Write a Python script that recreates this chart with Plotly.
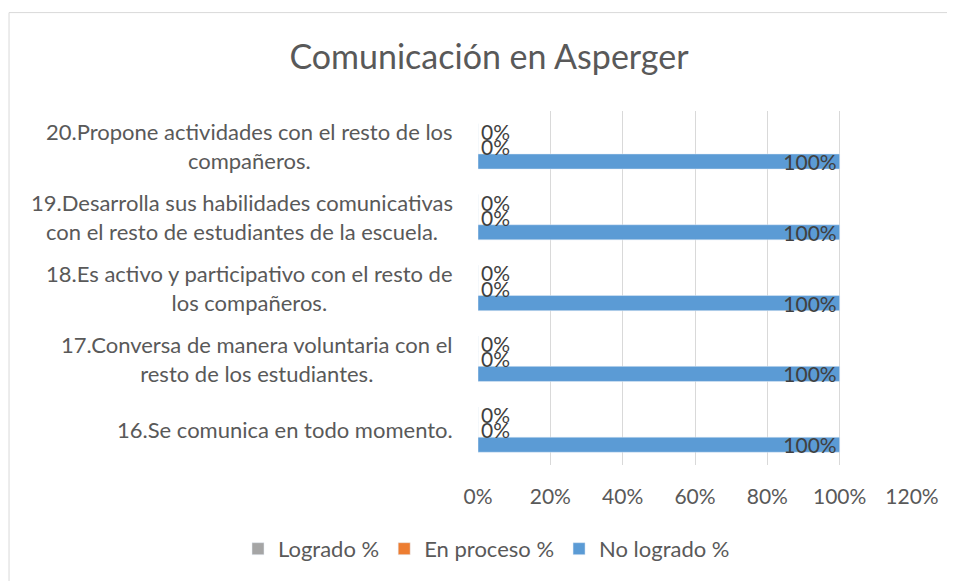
import plotly.graph_objects as go

categories = [
    "16.Se comunica en todo momento.",
    "17.Conversa de manera voluntaria con el<br>resto de los estudiantes.",
    "18.Es activo y participativo con el resto de<br>los compañeros.",
    "19.Desarrolla sus habilidades comunicativas<br>con el resto de estudiantes de la escuela.",
    "20.Propone actividades con el resto de los<br>compañeros.",
]
logrado = [0, 0, 0, 0, 0]
en_proceso = [0, 0, 0, 0, 0]
no_logrado = [100, 100, 100, 100, 100]
x_ticks = [0, 20, 40, 60, 80, 100, 120]
x_tick_labels = ["0%", "20%", "40%", "60%", "80%", "100%", "120%"]

FONT = "Lato, 'Open Sans', sans-serif"
TXT = "#595959"
LBL = "#404040"
ids = list(range(len(categories)))

fig = go.Figure()
fig.add_trace(go.Bar(
    y=ids, x=no_logrado, orientation="h", name="No logrado %",
    marker_color="#5B9BD5", text=[f"{v}%" for v in no_logrado],
    textposition="inside", insidetextanchor="end", constraintext="none",
    textfont=dict(family=FONT, size=21, color=LBL),
))
fig.add_trace(go.Bar(
    y=ids, x=en_proceso, orientation="h", name="En proceso %",
    marker_color="#ED7D31", text=[f"{v}%" for v in en_proceso],
    textposition="outside", constraintext="none", cliponaxis=False,
    textfont=dict(family=FONT, size=21, color=LBL),
))
fig.add_trace(go.Bar(
    y=ids, x=logrado, orientation="h", name="Logrado %",
    marker_color="#A5A5A5", text=[f"{v}%" for v in logrado],
    textposition="outside", constraintext="none", cliponaxis=False,
    textfont=dict(family=FONT, size=21, color=LBL),
))

for i, c in enumerate(categories):
    fig.add_annotation(
        x=-0.053, xref="paper", y=i, yref="y", text=c, showarrow=False,
        xanchor="right", align="center",
        font=dict(family=FONT, size=22, color=TXT),
    )

fig.add_shape(type="rect", xref="paper", yref="paper",
              x0=-1.0806, x1=1.12, y0=-0.4, y1=1.278,
              line=dict(color="#D9D9D9", width=1), layer="below")

fig.update_layout(
    width=947, height=573,
    margin=dict(l=470, r=43, t=103, b=116, autoexpand=False),
    paper_bgcolor="white", plot_bgcolor="white",
    barmode="group", bargap=0.36, bargroupgap=0,
    title=dict(text="Comunicación en Asperger", x=(489 - 8) / 947, xref="container",
               xanchor="center", y=1 - 49 / 573, yref="container", yanchor="middle",
               font=dict(family=FONT, size=34, color=TXT)),
    xaxis=dict(range=[0, 120], tickvals=x_ticks, ticktext=x_tick_labels,
               showgrid=True, gridcolor="#D9D9D9", gridwidth=1,
               zeroline=False, showline=False, ticks="",
               ticklabelstandoff=17,
               tickfont=dict(family=FONT, size=21, color=TXT)),
    yaxis=dict(tickvals=ids, showticklabels=False, showgrid=False,
               zeroline=False, showline=False, range=[-0.5, 4.5]),
    showlegend=True,
    legend=dict(orientation="h", traceorder="reversed",
                xref="paper", x=(238 - 478) / 434, xanchor="left",
                y=-0.237, yanchor="middle", bgcolor="rgba(0,0,0,0)",
                font=dict(family=FONT, size=22, color=TXT)),
)

fig.write_html("out.html")
